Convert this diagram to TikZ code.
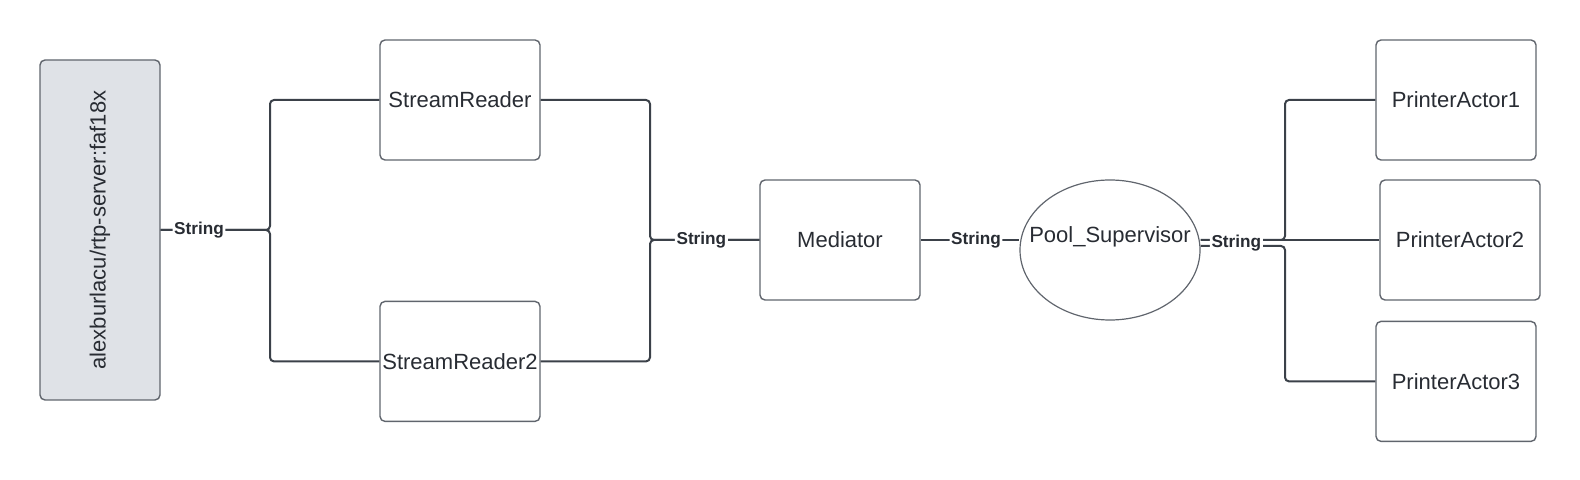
\documentclass[tikz,border=0pt]{standalone}
\usepackage{fontspec}
\setmainfont{Liberation Sans}
\usetikzlibrary{shapes.geometric, positioning}
\definecolor{linegray}{HTML}{3B4149}
\definecolor{edgegray}{HTML}{60656D}
\definecolor{textgray}{HTML}{282C33}
\definecolor{servergray}{HTML}{DFE2E7}
\tikzset{
  actor/.style={
    rectangle, rounded corners=2.5pt,
    minimum width=80pt, minimum height=60pt, inner xsep=0.5pt,
    text centered, draw=edgegray, line width=0.7pt,
    text=textgray, font=\fontsize{11}{13}\selectfont,
  },
  server/.style={
    actor, fill=servergray,
    minimum width=60pt, minimum height=170pt,
  },
  super/.style={
    ellipse, minimum width=90pt, minimum height=70pt, inner sep=0pt,
    draw=edgegray, line width=0.6pt, text depth=15.5pt,
    text=textgray, font=\fontsize{11}{13}\selectfont,
  },
  link/.style={draw=linegray, line width=1pt, rounded corners=2pt},
  msg/.style={fill=white, inner sep=0.8pt, text=textgray,
    font=\fontsize{8.6}{10}\selectfont\bfseries},
}

\begin{document}
\begin{tikzpicture}[x=0.5pt, y=-0.5pt]
  \useasboundingbox (0,0) rectangle (1580,480);
  \node[server] (srv) at (100,230) {\rotatebox{90}{alexburlacu/rtp-server:faf18x}};
  \node[actor] (sr1) at (460,100) {StreamReader};
  \node[actor,below=70pt of sr1] (sr2) {StreamReader2};
  \node[actor] (med) at (840,240) {Mediator};
  \node[super] (pool) at (1110,250) {\makebox[0pt]{Pool\_Supervisor}};
  \node[actor] (p1) at (1456,100) {PrinterActor1};
  \node[actor] (p2) at (1460,240) {PrinterActor2};
  \node[actor,below=80pt of p1] (p3) {PrinterActor3};
  \coordinate (j1) at (270,230);
  \coordinate (j2) at (650,240);
  \coordinate (j3) at (1285,240);
  \coordinate (j4) at (1285,246);
  \draw[link] (srv.east) -- (j1) |- (sr1.west);
  \draw[link] (srv.east) -- node[msg,pos=0.35]{String} (j1) |- (sr2.west);
  \draw[link] (sr1.east) -| (j2) -- (med.west);
  \draw[link] (sr2.east) -| (j2) -- node[msg,pos=0.47]{String} (med.west);
  \draw[link] (med.east) -- node[msg,pos=0.56]{String} (med.east -| pool.west);
  \draw[link] (j3 -| pool.east) -- (j3) |- (p1.west);
  \draw[link] (j4 -| pool.east) -- (j4) |- (p3.west);
  \draw[link] (j3 -| pool.east) -- node[msg,pos=0.2,yshift=-1.5pt]{String} (p2.west);
\end{tikzpicture}
\end{document}
